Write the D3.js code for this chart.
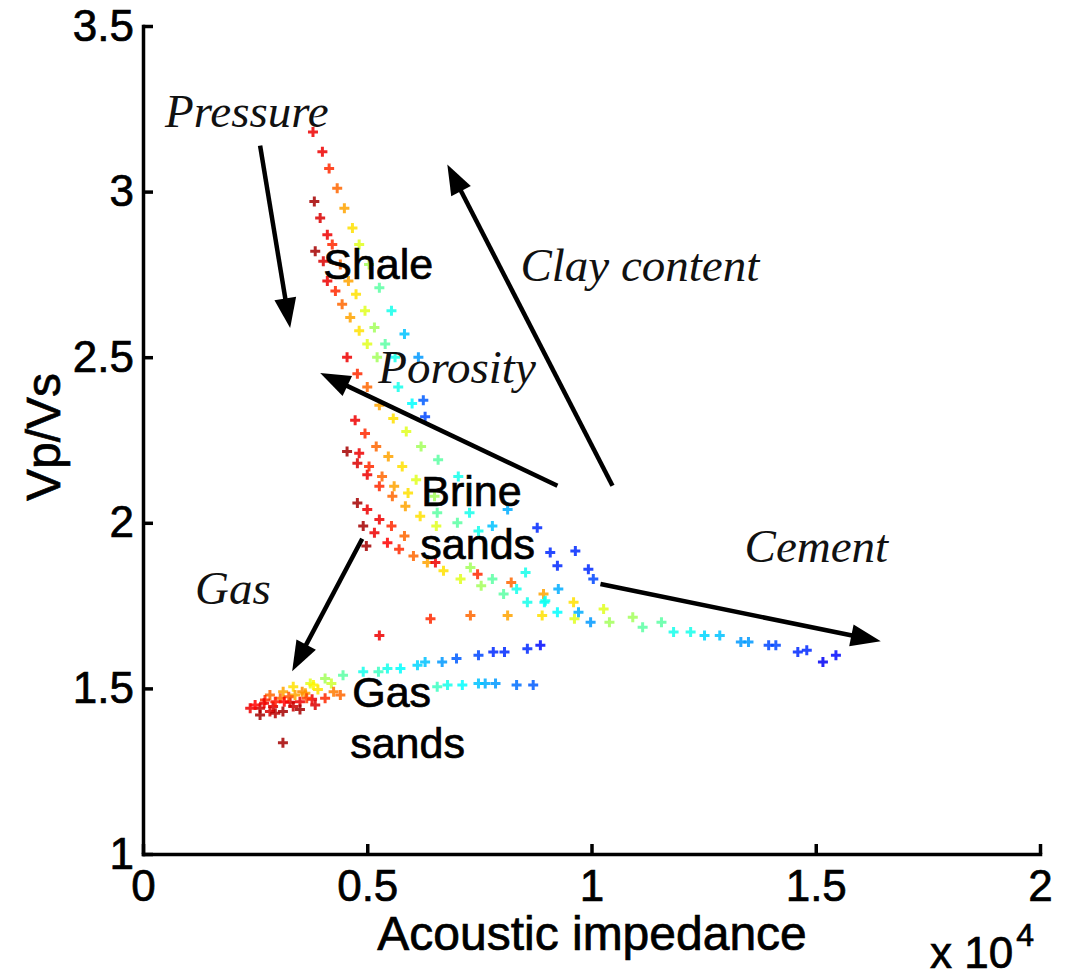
<!DOCTYPE html>
<meta charset="utf-8">
<title>Vp/Vs vs acoustic impedance</title>
<body>
<script src="https://cdn.jsdelivr.net/npm/d3@7"></script>
<style>
html, body {
    margin: 0;
    background: #fff;
}

svg {
    display: block;
}

.axis path, .axis line {
    stroke: #000;
    stroke-width: 3.5;
}

.axis text, .label, .tag {
    font-family: "Liberation Sans", Arial, sans-serif;
    fill: #000;
    stroke: #000;
    stroke-width: 0.7;
}

.axis text {
    font-size: 44px;
}

.note {
    font-family: "Liberation Serif", "Times New Roman", serif;
    font-style: italic;
    font-size: 47px;
    fill: #111;
}

.tag {
    font-size: 43px;
}
</style>
<script>
// [acoustic impedance, Vp/Vs, colour tone (0 = blue ... 1 = dark red)]
var shale = [
    [3790, 3.18, .88], [4000, 3.12, .88], [4150, 3.07, .82], [4330, 3.01, .76], [4490, 2.95, .70],
    [4670, 2.89, .64], [4820, 2.84, .58], [5040, 2.78, .52], [5270, 2.71, .45], [5540, 2.64, .38],
    [5830, 2.57, .30], [6140, 2.50, .26],
    [3820, 2.97, .96], [3950, 2.92, .90], [4110, 2.87, .88], [4220, 2.84, .82], [4400, 2.78, .76],
    [4580, 2.73, .70], [4750, 2.69, .64], [4950, 2.64, .58], [5160, 2.59, .52], [5400, 2.54, .45],
    [5620, 2.50, .38],
    [3840, 2.82, .96], [4020, 2.79, .90], [4110, 2.73, .88], [4290, 2.70, .82], [4440, 2.66, .76],
    [4620, 2.62, .70], [4820, 2.58, .64], [5000, 2.54, .58], [5220, 2.50, .52], [5690, 2.41, .38],
    [6000, 2.36, .36], [6250, 2.37, .20], [6290, 2.32, .18]
];

var brine = [
    [4550, 2.50, .88], [4780, 2.45, .82], [5000, 2.41, .76], [5270, 2.355, .70], [5580, 2.315, .64],
    [5870, 2.276, .58], [6200, 2.23, .52], [6580, 2.19, .45], [7030, 2.14, .38], [8130, 2.04, .28],
    [4730, 2.31, .88], [4950, 2.27, .82], [5200, 2.23, .76], [5470, 2.20, .70], [5780, 2.17, .64],
    [6090, 2.13, .58], [6500, 2.08, .52], [6560, 2.03, .45], [7280, 2.03, .38], [7790, 1.99, .30],
    [8790, 1.985, .15],
    [4550, 2.215, .96], [4780, 2.18, .90], [5000, 2.145, .88], [5270, 2.11, .82], [5560, 2.08, .76],
    [5850, 2.05, .70], [6180, 2.02, .64], [6540, 1.99, .58], [7010, 2.00, .45], [7480, 1.975, .38],
    [4820, 2.21, .88], [5040, 2.17, .82], [5330, 2.14, .76], [5600, 2.11, .70], [5910, 2.09, .64],
    [4780, 2.06, .96], [5000, 2.04, .88], [5270, 2.01, .88], [5540, 1.99, .82], [5830, 1.96, .76],
    [4910, 1.99, .96], [5160, 1.97, .88], [5450, 1.94, .86], [5710, 1.92, .82], [6030, 1.90, .76],
    [6340, 1.88, .70], [6700, 1.855, .64], [7080, 1.83, .58], [7540, 1.81, .52], [8040, 1.785, .45],
    [8570, 1.76, .38], [9240, 1.73, .36], [4980, 1.93, .96],
    [6520, 1.88, .88], [7300, 1.865, .52], [7460, 1.845, .82], [7790, 1.83, .45], [8530, 1.85, .38],
    [8330, 1.80, .38], [8210, 1.82, .76], [8930, 1.785, .70], [8950, 1.76, .36], [9260, 1.80, .28],
    [9080, 1.91, .15], [9640, 1.915, .15], [9240, 1.87, .15], [9930, 1.86, .15], [10040, 1.83, .18],
    [9600, 1.76, .64], [8900, 1.72, .64], [8130, 1.72, .70], [7300, 1.72, .76], [6410, 1.71, .82],
    [5270, 1.66, .88]
];

var cement = [
    [9620, 1.71, .58], [9710, 1.73, .28], [9980, 1.70, .26], [10270, 1.74, .58], [10400, 1.70, .52],
    [10920, 1.715, .52], [11140, 1.685, .45], [11560, 1.70, .45], [11830, 1.67, .38], [12210, 1.67, .38],
    [12520, 1.66, .32], [12860, 1.66, .30], [13330, 1.64, .26], [13500, 1.64, .26], [13950, 1.63, .18],
    [14110, 1.63, .18], [14600, 1.61, .15], [14800, 1.615, .15], [15160, 1.58, .10], [15450, 1.60, .12],
    [8970, 1.765, .38]
];

var gasSands = [
    [8860, 1.63, .12], [8570, 1.62, .15], [8060, 1.61, .15], [7810, 1.61, .15], [7480, 1.60, .18],
    [6990, 1.59, .20], [6670, 1.58, .26], [6290, 1.58, .30], [6120, 1.57, .32], [5740, 1.56, .36],
    [5450, 1.56, .38], [5250, 1.55, .42], [4910, 1.55, .38], [4460, 1.54, .45], [4060, 1.53, .52],
    [3730, 1.515, .58], [3350, 1.505, .64], [3125, 1.49, .70], [2830, 1.48, .76],
    [8700, 1.51, .20], [8330, 1.51, .22], [7860, 1.515, .26], [7630, 1.515, .28], [7480, 1.515, .30],
    [7120, 1.51, .36], [6790, 1.51, .38], [6560, 1.505, .42], [4400, 1.48, .76], [4060, 1.47, .82],
    [3770, 1.467, .88], [3500, 1.46, .88], [3280, 1.458, .90], [2900, 1.445, .90], [2610, 1.44, .92],
    [2390, 1.44, .88], [2610, 1.42, .96],
    [2720, 1.465, .82], [3060, 1.47, .76], [3390, 1.48, .70], [3620, 1.485, .70], [3900, 1.497, .64],
    [3120, 1.43, .96], [3500, 1.436, .96], [2830, 1.43, .90], [3840, 1.45, .90], [3120, 1.336, .96],
    [2500, 1.45, .86], [2950, 1.46, .84], [3250, 1.475, .78], [3550, 1.49, .72], [3800, 1.51, .62],
    [4200, 1.515, .56], [2700, 1.455, .88], [3350, 1.445, .92], [2950, 1.425, .94], [3650, 1.47, .80],
    [4250, 1.49, .74], [3150, 1.46, .86]
];

var xTicks = [0, 5000, 10000, 15000, 20000],
    yTicks = [1, 1.5, 2, 2.5, 3, 3.5];

// arrows: [from AI, from Vp/Vs, to AI, to Vp/Vs]
var arrows = [
    [2611, 3.139, 3281, 2.588],
    [10468, 2.112, 6785, 3.082],
    [9240, 2.112, 3951, 2.452],
    [10200, 1.815, 16450, 1.642],
    [4888, 1.952, 3326, 1.552]
];

var trendNotes = [
    ["Pressure", 491, 3.194],
    ["Clay content", 8415, 2.730],
    ["Porosity", 5245, 2.421],
    ["Cement", 13414, 1.882],
    ["Gas", 1161, 1.755]
];

var rockTags = [
    ["Shale", 4018, 2.736],
    ["Brine", 6205, 2.052],
    ["sands", 6183, 1.891],
    ["Gas", 4665, 1.445],
    ["sands", 4620, 1.291]
];

var width = 1069,
    height = 977;

var x = d3.scaleLinear().domain([0, 20000]).range([143, 1040]),
    y = d3.scaleLinear().domain([1, 3.5]).range([854, 26]);

var jet = d3.scaleLinear()
    .domain([0, .11, .36, .61, .86, 1])
    .range(["#00008f", "#0000ff", "#00ffff", "#ffff00", "#ff0000", "#800000"]);

var svg = d3.select("body").append("svg")
    .attr("width", width)
    .attr("height", height);

svg.append("g")
    .attr("class", "axis")
    .attr("transform", "translate(0,854)")
    .call(d3.axisBottom(x)
        .tickValues(xTicks)
        .tickSizeInner(-10)
        .tickSizeOuter(0)
        .tickPadding(16)
        .tickFormat(function(d) { return d / 1e4; }));

svg.append("g")
    .attr("class", "axis")
    .attr("transform", "translate(143,0)")
    .call(d3.axisLeft(y)
        .tickValues(yTicks)
        .tickSizeInner(-10)
        .tickSizeOuter(0)
        .tickPadding(9)
        .tickFormat(d3.format("")));

svg.selectAll(".axis .domain").attr("stroke-linecap", "square");

var points = shale.concat(brine, cement, gasSands);

svg.append("g").selectAll("path")
    .data(points)
    .enter().append("path")
    .attr("transform", function(d) { return "translate(" + [x(d[0]), y(d[1])] + ")"; })
    .attr("d", "M-5,0H5M0,-5V5")
    .attr("stroke", function(d) { return jet(d[2]); })
    .attr("stroke-opacity", 0.85)
    .attr("stroke-width", 3);

var headLength = 30,
    headHalf = 11;

var arrow = svg.append("g").selectAll("g")
    .data(arrows)
    .enter().append("g");

arrow.each(function(d) {
    var x1 = x(d[0]), y1 = y(d[1]), x2 = x(d[2]), y2 = y(d[3]),
        len = Math.hypot(x2 - x1, y2 - y1),
        ux = (x2 - x1) / len, uy = (y2 - y1) / len,
        bx = x2 - ux * headLength, by = y2 - uy * headLength;
    var g = d3.select(this);
    g.append("line")
        .attr("x1", x1).attr("y1", y1)
        .attr("x2", bx + ux * 2).attr("y2", by + uy * 2)
        .attr("stroke", "#000")
        .attr("stroke-width", 4.5);
    g.append("path")
        .attr("d", "M" + [x2, y2] +
            "L" + [bx - uy * headHalf, by + ux * headHalf] +
            "L" + [bx + uy * headHalf, by - ux * headHalf] + "Z")
        .attr("fill", "#000");
});

svg.append("g").selectAll("text")
    .data(trendNotes)
    .enter().append("text")
    .attr("class", "note")
    .attr("x", function(d) { return x(d[1]); })
    .attr("y", function(d) { return y(d[2]); })
    .text(function(d) { return d[0]; });

svg.append("g").selectAll("text")
    .data(rockTags)
    .enter().append("text")
    .attr("class", "tag")
    .attr("x", function(d) { return x(d[1]); })
    .attr("y", function(d) { return y(d[2]); })
    .text(function(d) { return d[0]; });

svg.append("text")
    .attr("class", "label")
    .attr("x", 592)
    .attr("y", 950)
    .attr("text-anchor", "middle")
    .style("font-size", "48px")
    .text("Acoustic impedance");

svg.append("text")
    .attr("class", "label")
    .attr("transform", "translate(60,437) rotate(-90)")
    .attr("text-anchor", "middle")
    .style("font-size", "48px")
    .text("Vp/Vs");

var mult = svg.append("text")
    .attr("class", "label")
    .attr("x", 930)
    .attr("y", 968)
    .style("font-size", "44px");
mult.append("tspan").text("x 10");
mult.append("tspan")
    .attr("dy", -22)
    .attr("dx", 3)
    .style("font-size", "32px")
    .text("4");
</script>
